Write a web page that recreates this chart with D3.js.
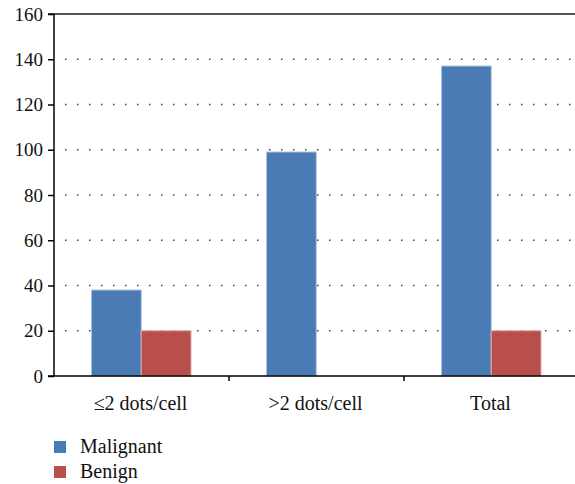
<!DOCTYPE html>
<html>
<head>
<meta charset="utf-8">
<script src="https://cdn.jsdelivr.net/npm/d3@7"></script>
<style>
  body { margin: 0; background: #fff; }
  svg text { font-family: "Liberation Serif", "DejaVu Serif", serif; fill: #111; }
</style>
</head>
<body>
<div class="chart"></div>
<script>
// データ
const categories = ["≤2 dots/cell", ">2 dots/cell", "Total"];
const seriesNames = ["Malignant", "Benign"];
const malignant = [38, 99, 137];
const benign = [20, 0, 20];
const yTicks = [0, 20, 40, 60, 80, 100, 120, 140, 160];
const colors = ["#4a7bb5", "#b94f4b"];
const strokes = ["#a9c2e2", "#e3a9a7"];

const margin = { top: 14, left: 54 };
const width = 525;   // 3 categories x 175, runs past right edge like the original
const height = 362;

const svg = d3.select(".chart")
    .append("svg")
    .attr("width", 575)
    .attr("height", 484);

const g = svg.append("g")
    .attr("transform", `translate(${margin.left},${margin.top})`);

// スケール
const x = d3.scaleBand().domain(categories).range([0, width]);
const y = d3.scaleLinear().domain([0, 160]).range([height, 0]);
const inner = d3.scaleBand().domain(seriesNames)
    .range([37.5, 137]);

// グリッド線（点線）
g.selectAll(".grid")
    .data(yTicks.filter(d => d > 0 && d < 160))
    .enter().append("line")
    .attr("x1", 11)
    .attr("x2", 575 - margin.left)
    .attr("y1", d => y(d))
    .attr("y2", d => y(d))
    .attr("stroke", "#444")
    .attr("stroke-width", 1.5)
    .attr("stroke-dasharray", "1.5,10.5");

// 上端の実線
g.append("line")
    .attr("x1", -6)
    .attr("x2", 575 - margin.left)
    .attr("y1", y(160))
    .attr("y2", y(160))
    .attr("stroke", "#555")
    .attr("stroke-width", 2);

// バー
const rows = categories.map((c, i) => ({ cat: c, vals: [malignant[i], benign[i]] }));
const groups = g.selectAll(".cat")
    .data(rows)
    .enter().append("g")
    .attr("transform", d => `translate(${x(d.cat)},0)`);

groups.selectAll("rect")
    .data(d => d.vals.map((v, j) => ({ name: seriesNames[j], v, j })).filter(d => d.v > 0))
    .enter().append("rect")
    .attr("x", d => inner(d.name))
    .attr("y", d => y(d.v))
    .attr("width", inner.bandwidth())
    .attr("height", d => y(0) - y(d.v))
    .attr("fill", d => colors[d.j])
    .attr("stroke", d => strokes[d.j])
    .attr("stroke-width", 1);

// Y軸
const yAxis = g.append("g")
    .call(d3.axisLeft(y).tickValues(yTicks).tickSize(6).tickPadding(5));
yAxis.attr("font-family", null);
yAxis.select(".domain").attr("stroke", "#000").attr("stroke-width", 1.5).attr("d", `M0,${y(160)}V${y(0)}`);
yAxis.selectAll(".tick line").attr("stroke", "#000").attr("stroke-width", 1.5);
yAxis.selectAll(".tick text").style("font-size", "19px").attr("fill", "#111");

// X軸
const xAxisG = g.append("g").attr("transform", `translate(0,${height})`);
xAxisG.append("line")
    .attr("x1", -6).attr("x2", 575 - margin.left)
    .attr("stroke", "#000").attr("stroke-width", 1.5);
xAxisG.selectAll(".xtick")
    .data(categories.slice(1))
    .enter().append("line")
    .attr("x1", d => x(d)).attr("x2", d => x(d))
    .attr("y1", 0).attr("y2", 5)
    .attr("stroke", "#000").attr("stroke-width", 1.5);
xAxisG.selectAll(".xlabel")
    .data(categories)
    .enter().append("text")
    .attr("x", d => x(d) + x.bandwidth() / 2 - 1)
    .attr("y", 34)
    .attr("text-anchor", "middle")
    .style("font-size", "20px")
    .text(d => d);

// 凡例
const legend = svg.selectAll(".legend")
    .data(seriesNames)
    .enter().append("g")
    .attr("transform", (d, i) => `translate(54,${441 + i * 25})`);
legend.append("rect")
    .attr("width", 12).attr("height", 12)
    .attr("fill", (d, i) => colors[i]);
legend.append("text")
    .attr("x", 26).attr("y", 12)
    .style("font-size", "20px")
    .text(d => d);
</script>
</body>
</html>
